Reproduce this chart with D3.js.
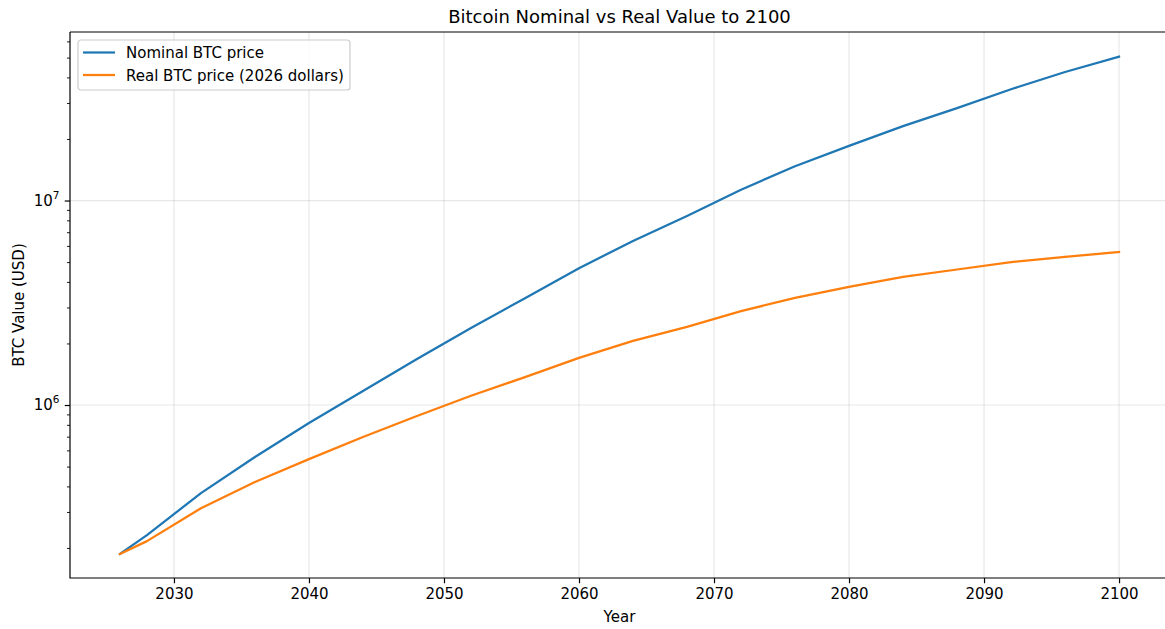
<!DOCTYPE html>
<html>
<head>
<meta charset="utf-8">
<script src="https://cdn.jsdelivr.net/npm/d3@7"></script>
<style>
  body { margin: 0; background: #fff; }
  svg text { font-family: "DejaVu Sans", sans-serif; fill: #000; }
</style>
</head>
<body>
<svg id="chart"></svg>
<script>
// Data (halving-cycle steps)
const years = [2026, 2028, 2032, 2036, 2040, 2044, 2048, 2052, 2056, 2060, 2064, 2068, 2072, 2076, 2080, 2084, 2088, 2092, 2096, 2100];
const nominalPrice = [1.87e5, 2.31e5, 3.71e5, 5.57e5, 8.17e5, 1.17e6, 1.68e6, 2.38e6, 3.33e6, 4.67e6, 6.34e6, 8.4e6, 1.13e7, 1.47e7, 1.85e7, 2.31e7, 2.83e7, 3.5e7, 4.25e7, 5.05e7];
const realPrice = [1.87e5, 2.16e5, 3.13e5, 4.20e5, 5.44e5, 6.98e5, 8.84e5, 1.11e6, 1.37e6, 1.70e6, 2.06e6, 2.41e6, 2.88e6, 3.34e6, 3.78e6, 4.23e6, 4.6e6, 5.0e6, 5.3e6, 5.6e6];
const seriesNames = ["Nominal BTC price", "Real BTC price (2026 dollars)"];
const seriesColors = ["#1f77b4", "#ff7f0e"];
const xTicks = [2030, 2040, 2050, 2060, 2070, 2080, 2090, 2100];
const yMajorTicks = [1e6, 1e7];

const width = 1165, height = 629;
const margin = {top: 32, right: -4, bottom: 51, left: 70};
const innerW = width - margin.left - margin.right;
const innerH = height - margin.top - margin.bottom;

const svg = d3.select('#chart')
    .attr('width', width)
    .attr('height', height);

const chart = svg.append('g')
    .attr('transform', `translate(${margin.left},${margin.top})`);

// matplotlib-style 5% margins on x
const xScale = d3.scaleLinear()
    .domain([2022.3, 2103.7])
    .range([0, innerW]);

const yScale = d3.scaleLog()
    .domain([1.426e5, 6.67e7])
    .range([innerH, 0]);

// minor ticks on the log axis
const yMinorTicks = [];
for (let e = 5; e <= 7; e++) {
  for (let m = 2; m <= 9; m++) {
    const v = m * Math.pow(10, e);
    if (v >= yScale.domain()[0] && v <= yScale.domain()[1]) yMinorTicks.push(v);
  }
}

// grid
chart.append('g').selectAll('line')
    .data(xTicks)
    .join('line')
    .attr('x1', d => xScale(d)).attr('x2', d => xScale(d))
    .attr('y1', 0).attr('y2', innerH)
    .attr('stroke', '#b0b0b0').attr('stroke-opacity', 0.3).attr('stroke-width', 1.2);

chart.append('g').selectAll('line')
    .data(yMajorTicks)
    .join('line')
    .attr('x1', 0).attr('x2', innerW)
    .attr('y1', d => yScale(d)).attr('y2', d => yScale(d))
    .attr('stroke', '#b0b0b0').attr('stroke-opacity', 0.3).attr('stroke-width', 1.2);

// lines
svg.append('clipPath').attr('id', 'clip')
  .append('rect').attr('width', innerW).attr('height', innerH);

const line = d3.line()
    .x(d => xScale(d[0]))
    .y(d => yScale(d[1]));

[nominalPrice, realPrice].forEach((vals, i) => {
  chart.append('path')
      .datum(years.map((y, j) => [y, vals[j]]))
      .attr('clip-path', 'url(#clip)')
      .attr('fill', 'none')
      .attr('stroke', seriesColors[i])
      .attr('stroke-width', 2.25)
      .attr('stroke-linejoin', 'round')
      .attr('stroke-linecap', 'square')
      .attr('d', line);
});

// axes
const xAxis = d3.axisBottom(xScale)
    .tickValues(xTicks)
    .tickFormat(d3.format('d'))
    .tickSize(5.25)
    .tickPadding(5);

const xAxisG = chart.append('g')
    .attr('transform', `translate(0,${innerH})`)
    .call(xAxis);
xAxisG.select('.domain').remove();
xAxisG.selectAll('line').attr('stroke', '#000').attr('stroke-width', 1.2);
xAxisG.selectAll('text').attr('font-size', 15).attr('font-family', 'DejaVu Sans');

const yAxisMinor = d3.axisLeft(yScale)
    .tickValues(yMinorTicks)
    .tickFormat('')
    .tickSize(3);
const yMinorG = chart.append('g').call(yAxisMinor);
yMinorG.select('.domain').remove();
yMinorG.selectAll('line').attr('stroke', '#000').attr('stroke-width', 0.9);

const yAxisMajor = d3.axisLeft(yScale)
    .tickValues(yMajorTicks)
    .tickFormat('')
    .tickSize(5.25);
const yMajorG = chart.append('g').call(yAxisMajor);
yMajorG.select('.domain').remove();
yMajorG.selectAll('line').attr('stroke', '#000').attr('stroke-width', 1.2);

// 10^n labels with superscript
yMajorTicks.forEach(v => {
  const t = chart.append('text')
      .attr('x', -10.5)
      .attr('y', yScale(v) + 5)
      .attr('text-anchor', 'end')
      .attr('font-size', 15);
  t.append('tspan').text('10');
  t.append('tspan')
      .attr('dy', -7)
      .attr('font-size', 10.5)
      .text(Math.round(Math.log10(v)));
});

// spines (left, bottom, top; right falls off the canvas)
chart.append('path')
    .attr('d', `M0,0H${innerW}M0,0V${innerH}H${innerW}`)
    .attr('fill', 'none')
    .attr('stroke', '#000')
    .attr('stroke-width', 1.2);

// titles
svg.append('text')
    .attr('x', margin.left + innerW / 2)
    .attr('y', 23)
    .attr('text-anchor', 'middle')
    .attr('font-size', 18)
    .text('Bitcoin Nominal vs Real Value to 2100');

svg.append('text')
    .attr('x', margin.left + innerW / 2)
    .attr('y', 622)
    .attr('text-anchor', 'middle')
    .attr('font-size', 15)
    .text('Year');

svg.append('text')
    .attr('transform', `translate(24,${margin.top + innerH / 2}) rotate(-90)`)
    .attr('text-anchor', 'middle')
    .attr('font-size', 15)
    .text('BTC Value (USD)');

// legend
const legend = chart.append('g').attr('transform', 'translate(8,8)');
legend.append('rect')
    .attr('width', 272).attr('height', 50)
    .attr('rx', 3)
    .attr('fill', '#fff').attr('fill-opacity', 0.8)
    .attr('stroke', '#ccc').attr('stroke-width', 1.2);

seriesNames.forEach((name, i) => {
  const gy = 12.5 + i * 22.5;
  legend.append('line')
      .attr('x1', 5).attr('x2', 37)
      .attr('y1', gy).attr('y2', gy)
      .attr('stroke', seriesColors[i])
      .attr('stroke-width', 2.25);
  legend.append('text')
      .attr('x', 48).attr('y', gy + 5.5)
      .attr('font-size', 15)
      .text(name);
});
</script>
</body>
</html>
